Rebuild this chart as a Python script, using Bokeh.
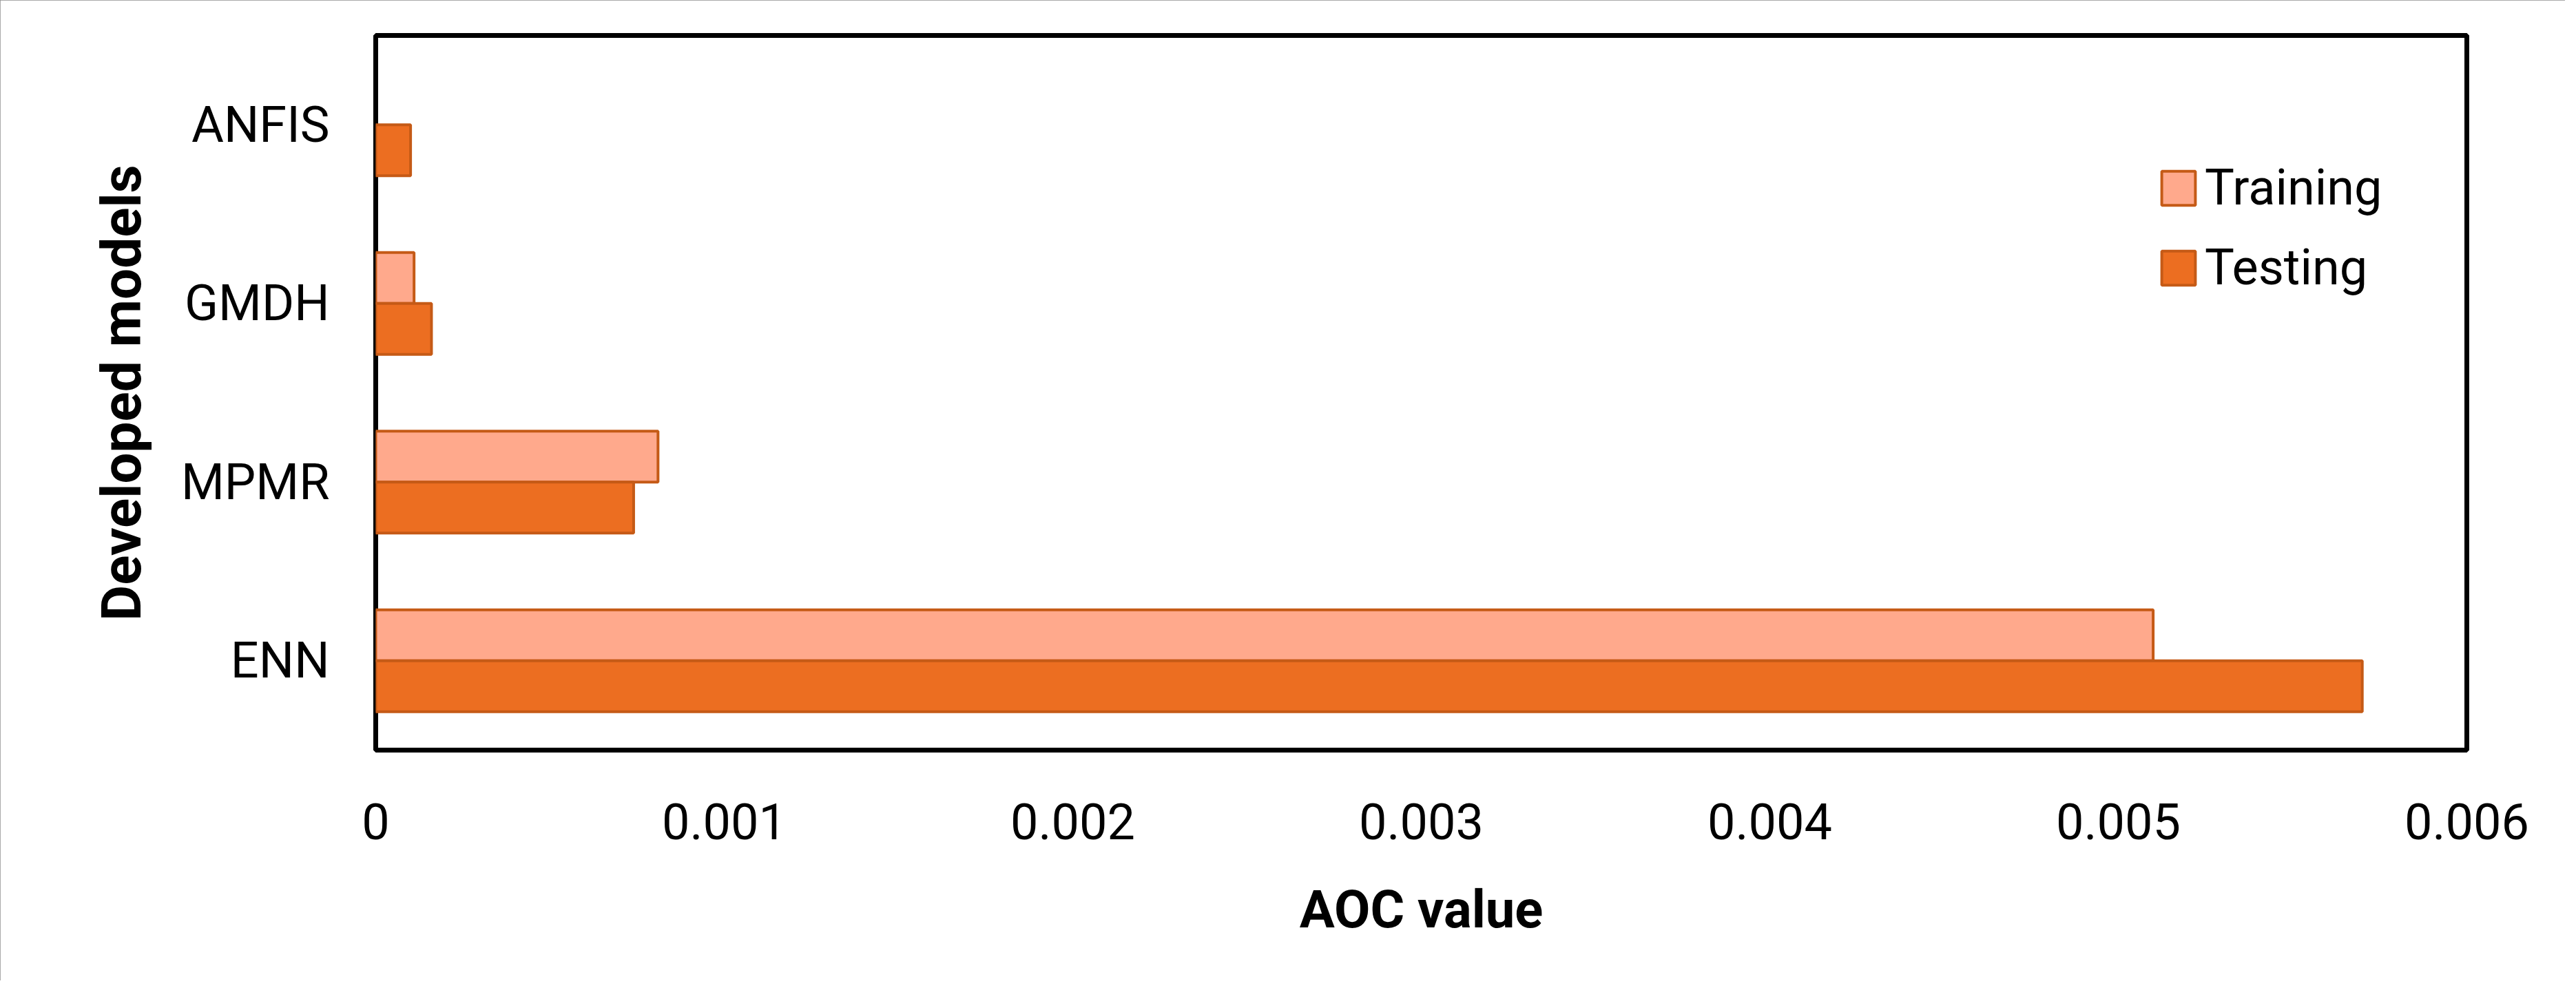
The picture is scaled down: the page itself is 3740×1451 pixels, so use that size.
from bokeh.plotting import figure
from bokeh.models import ColumnDataSource, FactorRange, Range1d, FixedTicker, NumeralTickFormatter, Legend, LegendItem
from bokeh.transform import dodge
from bokeh.embed import file_html
from bokeh.resources import INLINE

# ---- data ----
models = ["ENN", "MPMR", "GMDH", "ANFIS"]          # bottom to top
training = [0.0051, 0.00081, 0.00011, 0.0]
testing = [0.0057, 0.00074, 0.00016, 0.0001]
x_ticks = [0, 0.001, 0.002, 0.003, 0.004, 0.005, 0.006]
series_names = ["Training", "Testing"]

# zero-length bars get no visible outline (as in the original)
src = ColumnDataSource(dict(model=models, training=training, testing=testing,
                            tr_alpha=[1.0 if v > 0 else 0.0 for v in training],
                            te_alpha=[1.0 if v > 0 else 0.0 for v in testing]))

FONT = "Roboto"

p = figure(width=3724, height=1424, output_backend="svg", toolbar_location=None,
           y_range=FactorRange(factors=models), x_range=Range1d(0, 0.006),
           min_border_left=545, min_border_right=143, min_border_top=51, min_border_bottom=335)
p.styles = {"outline": "4px solid #8c8c8c", "outline-offset": "-4px"}

p.background_fill_color = "white"
p.border_fill_color = "white"
p.outline_line_color = "black"
p.outline_line_width = 7
p.xgrid.grid_line_color = None
p.ygrid.grid_line_color = None

r_train = p.hbar(y=dodge("model", 0.1425, range=p.y_range), left=0, right="training", height=0.285,
                 source=src, fill_color="#FFA98C", line_color="#C55A16", line_width=4,
                 line_alpha="tr_alpha")
r_test = p.hbar(y=dodge("model", -0.1425, range=p.y_range), left=0, right="testing", height=0.285,
                source=src, fill_color="#EC6E21", line_color="#C55A16", line_width=4,
                line_alpha="te_alpha")

# axes
p.xaxis.ticker = FixedTicker(ticks=x_ticks)
p.xaxis.formatter = NumeralTickFormatter(format="0.[000]")
for ax in (p.xaxis[0], p.yaxis[0]):
    ax.axis_line_color = None
    ax.major_tick_line_color = None
    ax.minor_tick_line_color = None
    ax.major_label_text_font = FONT
    ax.major_label_text_font_size = "72px"
    ax.major_label_text_color = "black"
    ax.axis_label_text_font = FONT
    ax.axis_label_text_font_style = "bold"
    ax.axis_label_text_color = "black"

p.xaxis.axis_label = "AOC value"
p.yaxis.axis_label = "Developed models"
p.xaxis.axis_label_text_font_size = "76px"
p.yaxis.axis_label_text_font_size = "80px"
p.xaxis.major_label_standoff = 71
p.xaxis.axis_label_standoff = 54
p.yaxis.major_label_standoff = 61
p.yaxis.axis_label_standoff = 36

legend = Legend(items=[LegendItem(label=series_names[0], renderers=[r_train]),
                       LegendItem(label=series_names[1], renderers=[r_test])],
                location=(2587, 658))
legend.glyph_width = 61
legend.glyph_height = 62
legend.label_height = 62
legend.spacing = 31
legend.label_standoff = 8
legend.padding = 0
legend.margin = 0
legend.border_line_color = None
legend.background_fill_alpha = 0
legend.label_text_font = FONT
legend.label_text_font_size = "72px"
legend.label_text_color = "black"
p.add_layout(legend, "center")

open("out.html", "w").write(file_html(p, INLINE))
